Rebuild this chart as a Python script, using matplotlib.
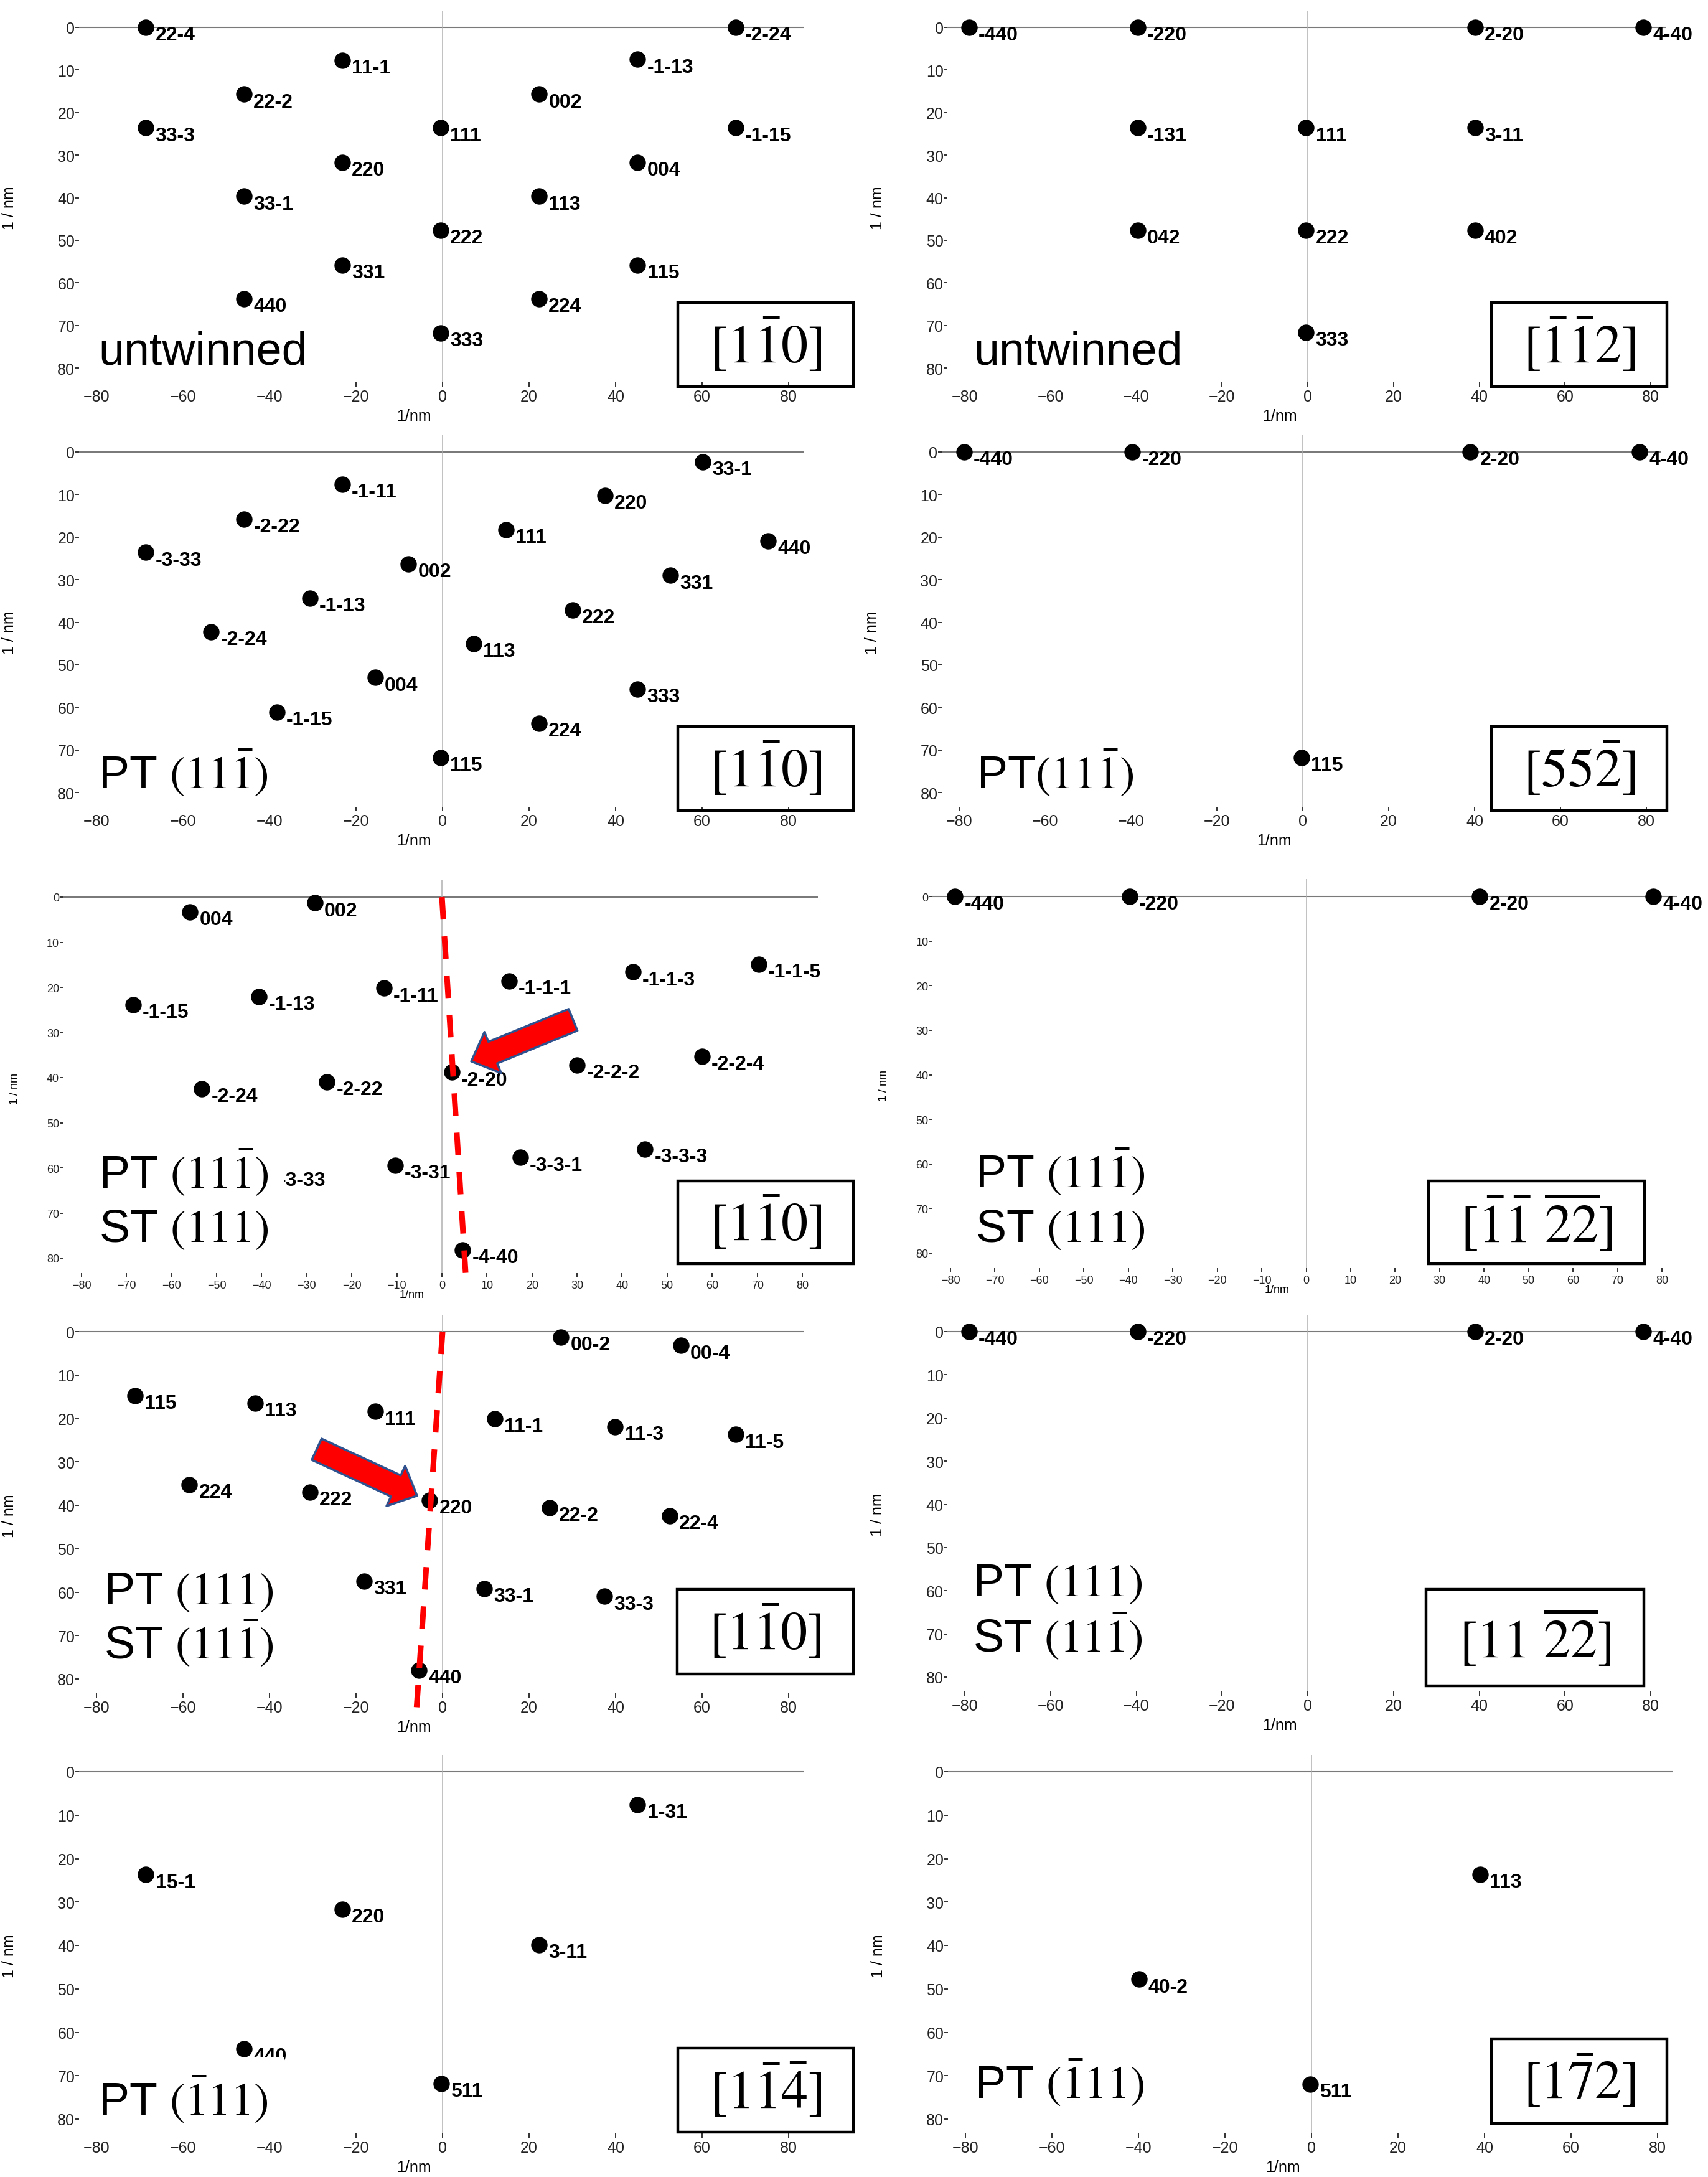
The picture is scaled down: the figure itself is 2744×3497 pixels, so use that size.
import matplotlib
matplotlib.use('Agg')
import matplotlib.pyplot as plt
from matplotlib.patches import Rectangle

plt.rcParams['font.family'] = ['Liberation Sans', 'DejaVu Sans']
plt.rcParams['mathtext.fontset'] = 'stix'

W, H = 2744, 3498          # output size in pixels
XLIM = (-84, 83.5)
YLIM = (83.3, -3.9)        # y axis runs downwards

# ---- diffraction spots (1/nm) and their hkl labels ----
# row 1 left: untwinned, [1-10]
a_x = [-68.6, 67.7, -23.2, 45.1, -45.9, 22.3, -68.6, -0.5, 67.7, -23.2,
       45.1, -45.9, 22.3, -0.5, -23.2, 45.1, -45.9, 22.3, -0.5]
a_y = [0, 0, 7.7, 7.5, 15.7, 15.7, 23.6, 23.6, 23.6, 31.7,
       31.7, 39.7, 39.7, 47.7, 55.8, 55.8, 63.8, 63.8, 71.8]
a_lab = ['22-4', '-2-24', '11-1', '-1-13', '22-2', '002', '33-3', '111', '-1-15', '220',
         '004', '33-1', '113', '222', '331', '115', '440', '224', '333']

# row 1 right: untwinned, [-1-12]
b_x = [-79.0, -39.7, 39.0, 78.3, -39.7, -0.4, 39.0, -39.7, -0.4, 39.0, -0.4]
b_y = [0, 0, 0, 0, 23.6, 23.6, 23.6, 47.7, 47.7, 47.7, 71.6]
b_lab = ['-440', '-220', '2-20', '4-40', '-131', '111', '3-11', '042', '222', '402', '333']

# row 2 left: PT (11-1), [1-10]
c_x = [60.2, -23.2, 37.5, -45.9, 14.7, 75.3, -68.6, -7.9, 52.6, -30.7,
       30.0, -53.5, 7.2, -15.6, 45.1, -38.3, 22.3, -0.5]
c_y = [2.3, 7.6, 10.2, 15.8, 18.3, 20.9, 23.6, 26.3, 29.0, 34.4,
       37.1, 42.3, 45.0, 53.0, 55.7, 61.1, 63.7, 71.8]
c_lab = ['33-1', '-1-11', '220', '-2-22', '111', '440', '-3-33', '002', '331', '-1-13',
         '222', '-2-24', '113', '004', '333', '-1-15', '224', '115']

# row 2 right: PT(11-1), [55-2]
d_x = [-78.9, -39.7, 39.0, 78.4, -0.3]
d_y = [0, 0, 0, 0, 71.8]
d_lab = ['-440', '-220', '2-20', '4-40', '115']

# row 3 left: PT (11-1) / ST (111), [1-10]
e_x = [-55.9, -28.2, -68.6, -40.6, -12.9, 14.9, 42.4, 70.3, -53.3, -25.5,
       2.2, 30.0, 57.7, -38.2, -10.4, 17.4, 45.1, 4.6]
e_y = [3.3, 1.3, 23.8, 22.1, 20.2, 18.6, 16.6, 14.9, 42.5, 40.9,
       38.8, 37.2, 35.3, 61.1, 59.4, 57.7, 55.8, 78.2]
e_lab = ['004', '002', '-1-15', '-1-13', '-1-11', '-1-1-1', '-1-1-3', '-1-1-5', '-2-24', '-2-22',
         '-2-20', '-2-2-2', '-2-2-4', '-3-33', '-3-31', '-3-3-1', '-3-3-3', '-4-40']

# row 3 right: PT (11-1) / ST (111), [-1-1 -2-2]
f_x = [-79.0, -39.7, 39.0, 78.1]
f_y = [0, 0, 0, 0]
f_lab = ['-440', '-220', '2-20', '4-40']

# row 4 left: PT (111) / ST (11-1), [1-10]
g_x = [27.4, 55.1, -71.1, -43.3, -15.6, 12.1, 39.9, 67.7, -58.5, -30.7,
       -3.0, 24.7, 52.5, -18.1, 9.7, 37.4, -5.5]
g_y = [1.3, 3.2, 14.7, 16.5, 18.4, 20.0, 21.9, 23.7, 35.2, 37.0,
       38.8, 40.6, 42.4, 57.5, 59.2, 61.0, 78.0]
g_lab = ['00-2', '00-4', '115', '113', '111', '11-1', '11-3', '11-5', '224', '222',
         '220', '22-2', '22-4', '331', '33-1', '33-3', '440']

# row 4 right: PT (111) / ST (11-1), [11 -2-2]
h_x = [-79.0, -39.7, 39.0, 78.3]
h_y = [0, 0, 0, 0]
h_lab = ['-440', '-220', '2-20', '4-40']

# row 5 left: PT (-111), [1-1-4]
i_x = [45.1, -68.6, -23.2, 22.3, -45.9, -0.3]
i_y = [7.6, 23.7, 31.7, 39.8, 63.8, 71.8]
i_lab = ['1-31', '15-1', '220', '3-11', '440', '511']

# row 5 right: PT (-111), [1-72]
j_x = [39.0, -39.9, -0.3]
j_y = [23.6, 47.8, 71.9]
j_lab = ['113', '40-2', '511']

# twin trace lines (red dashed) and arrow tail/tip
e_line_x, e_line_y = [0, 5.3], [0, 84]
e_arrow_tail, e_arrow_tip = (29.1, 27.2), (6.5, 36.4)
g_line_x, g_line_y = [0, -6.0], [0, 86.6]
g_arrow_tail, g_arrow_tip = (-29.1, 27.1), (-5.9, 37.8)

PT_1b = r'PT $\left(11\bar{1}\right)$'
ST_111 = r'ST $\left(111\right)$'
PT_111 = r'PT $\left(111\right)$'
ST_1b = r'ST $\left(11\bar{1}\right)$'
PT_b11 = r'PT $\left(\bar{1}11\right)$'

# layout: pixel positions of x=-80, x=80, y=0, y=80 ; zone box in pixels
panels = [
    dict(px=(155, 1267, 45, 592), x=a_x, y=a_y, lab=a_lab, step=20,
         box=(1089, 487, 1371, 622), zone=r'$[1\bar{1}0]$',
         texts=[('untwinned', -79.5, 79.0)]),
    dict(px=(1550, 2652, 45, 592), x=b_x, y=b_y, lab=b_lab, step=20,
         box=(2396, 487, 2678, 622), zone=r'$[\bar{1}\bar{1}2]$',
         texts=[('untwinned', -78.0, 79.0)]),
    dict(px=(155, 1267, 727, 1274), x=c_x, y=c_y, lab=c_lab, step=20,
         box=(1089, 1168, 1371, 1303), zone=r'$[1\bar{1}0]$',
         texts=[(PT_1b, -79.5, 78.8)]),
    dict(px=(1541, 2645, 727, 1274), x=d_x, y=d_y, lab=d_lab, step=20,
         box=(2396, 1168, 2678, 1303), zone=r'$[55\bar{2}]$',
         texts=[(r'PT$\left(11\bar{1}\right)$', -76.0, 78.8)]),
    dict(px=(131, 1289, 1442, 2022), x=e_x, y=e_y, lab=e_lab, step=10,
         box=(1089, 1898, 1371, 2031), zone=r'$[1\bar{1}0]$',
         texts=[(PT_1b, -76.1, 64.2), (ST_111, -76.1, 76.3)],
         line=(e_line_x, e_line_y), arrow=(e_arrow_tail, e_arrow_tip)),
    dict(px=(1527, 2670, 1441, 2014), x=f_x, y=f_y, lab=f_lab, step=10,
         box=(2295, 1898, 2642, 2031), zone=r'$[\bar{1}\bar{1}\ \overline{22}]$',
         texts=[(PT_1b, -74.4, 65.1), (ST_111, -74.4, 77.4)]),
    dict(px=(155, 1267, 2140, 2698), x=g_x, y=g_y, lab=g_lab, step=20,
         box=(1088, 2554, 1371, 2690), zone=r'$[1\bar{1}0]$',
         texts=[(PT_111, -78.3, 62.6), (ST_1b, -78.3, 75.1)],
         line=(g_line_x, g_line_y), arrow=(g_arrow_tail, g_arrow_tip)),
    dict(px=(1550, 2652, 2140, 2695), x=h_x, y=h_y, lab=h_lab, step=20,
         box=(2291, 2554, 2641, 2709), zone=r'$[11\ \overline{22}]$',
         texts=[(PT_111, -78.1, 61.1), (ST_1b, -78.1, 74.0)]),
    dict(px=(155, 1267, 2847, 3405), x=i_x, y=i_y, lab=i_lab, step=20,
         box=(1089, 3291, 1371, 3426), zone=r'$[1\bar{1}\bar{4}]$',
         texts=[(PT_b11, -79.6, 78.9)]),
    dict(px=(1551, 2663, 2847, 3405), x=j_x, y=j_y, lab=j_lab, step=20,
         box=(2396, 3276, 2678, 3412), zone=r'$[1\bar{7}2]$',
         texts=[(PT_b11, -77.8, 75.0)]),
]

fig = plt.figure(figsize=(W / 100, H / 100), dpi=100)

for p in panels:
    xm80, x80, y0, y80 = p['px']
    ppx = (x80 - xm80) / 160.0
    ppy = (y80 - y0) / 80.0
    left = xm80 + (XLIM[0] + 80) * ppx
    right = xm80 + (XLIM[1] + 80) * ppx
    top = y0 + YLIM[1] * ppy
    bottom = y0 + YLIM[0] * ppy
    ax = fig.add_axes([left / W, 1 - bottom / H, (right - left) / W, (bottom - top) / H])
    ax.set_xlim(XLIM)
    ax.set_ylim(YLIM)
    for s in ax.spines.values():
        s.set_visible(False)
    ax.axhline(0, color='#7a7a7a', lw=1.5, zorder=1)
    ax.axvline(0, color='#b0b0b0', lw=1.1, zorder=1)

    small = p['step'] == 10
    tfs = 13 if small else 18
    ax.set_xticks(range(-80, 81, p['step']))
    ax.set_yticks(range(0, 81, 10))
    ax.tick_params(axis='x', direction='out', length=5, width=1.3, colors='#222222',
                   labelsize=tfs, pad=3)
    ax.tick_params(axis='y', direction='out', length=4, width=1.3, colors='#222222',
                   labelsize=tfs, pad=1)
    ax.set_xlabel('1/nm', fontsize=tfs)
    ax.set_ylabel('1 / nm', fontsize=tfs)
    ah = bottom - top
    aw = right - left
    ax.xaxis.set_label_coords(0.462, -(26 if small else 42) / ah)
    ax.yaxis.set_label_coords(-(70 if small else 100) / aw, 0.47)

    ax.plot(p['x'], p['y'], 'o', ms=18, color='black', zorder=3, clip_on=False)
    for x, y, t in zip(p['x'], p['y'], p['lab']):
        ax.annotate(t, (x, y), xytext=(11, 2), textcoords='offset points',
                    fontsize=23, fontweight='bold', ha='left', va='top',
                    zorder=4, annotation_clip=False)

    if 'line' in p:
        lx, ly = p['line']
        ax.plot(lx, ly, color='red', lw=6.5, ls=(0, (4, 3)), zorder=5,
                clip_on=False, dash_capstyle='butt')
        tail, tip = p['arrow']
        ax.annotate('', xy=tip, xytext=tail, zorder=6,
                    arrowprops=dict(arrowstyle='simple,head_length=1.0,head_width=1.9,tail_width=1.0',
                                    mutation_scale=27, fc='red', ec='#2F528F', lw=2.5,
                                    shrinkA=0, shrinkB=0))

    # white text-box backgrounds first, the phase text on top of all of them
    for s, tx, ty in p['texts']:
        ax.text(tx, ty, s, fontsize=53, ha='left', va='baseline', zorder=6, clip_on=False,
                color='white',
                bbox=dict(facecolor='white', edgecolor='none', boxstyle='square,pad=0.35'))
    for s, tx, ty in p['texts']:
        ax.text(tx, ty, s, fontsize=53, ha='left', va='baseline', zorder=6.5, clip_on=False)

    bx0, by0, bx1, by1 = p['box']
    fig.add_artist(Rectangle((bx0 / W, 1 - by1 / H), (bx1 - bx0) / W, (by1 - by0) / H,
                             transform=fig.transFigure, fill=False, ec='black', lw=3.2, zorder=7))
    fig.text((bx0 + bx1) / 2 / W, 1 - (by0 + by1) / 2 / H, p['zone'],
             ha='center', va='center', fontsize=62, zorder=8)

fig.savefig('out.png', dpi=100)
